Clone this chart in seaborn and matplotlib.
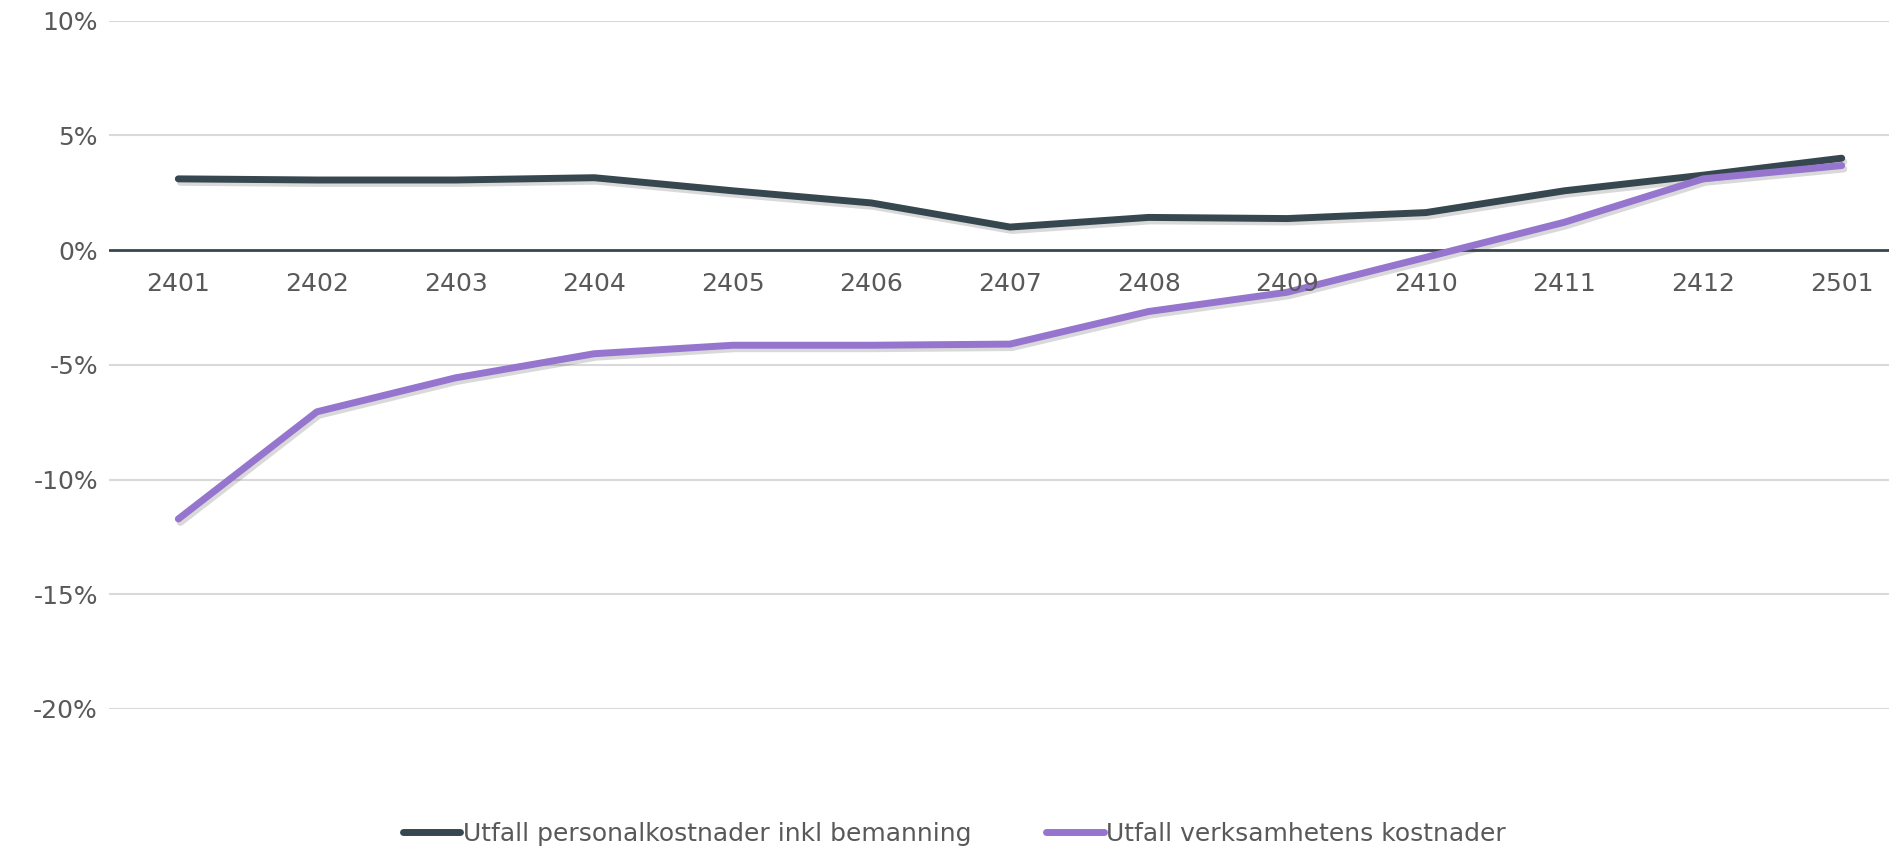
import pandas as pd
import matplotlib.pyplot as plt
import matplotlib.patheffects as pe
import seaborn as sns

sns.set_theme(style="white")
plt.rcParams['font.family'] = ['DejaVu Sans']

# Data
perioder = ["2401", "2402", "2403", "2404", "2405", "2406", "2407",
            "2408", "2409", "2410", "2411", "2412", "2501"]
personal = [3.10, 3.05, 3.05, 3.15, 2.58, 2.05, 1.00, 1.42, 1.37, 1.63, 2.58, 3.26, 4.00]
verksamhet = [-11.72, -7.05, -5.57, -4.52, -4.15, -4.15, -4.10, -2.68, -1.84, -0.32, 1.21, 3.10, 3.68]
serier = ["Utfall personalkostnader inkl bemanning", "Utfall verksamhetens kostnader"]
farger = ["#37474F", "#9575CD"]
yticks = [10, 5, 0, -5, -10, -15, -20]

df = pd.DataFrame({
    "pos": list(range(len(perioder))) * 2,
    "varde": personal + verksamhet,
    "serie": [serier[0]] * len(perioder) + [serier[1]] * len(perioder),
})

fig = plt.figure(figsize=(18.9, 8.51), dpi=100)
ax = fig.add_axes([109 / 1890, 1 - 709 / 851, 1802 / 1890, (709 - 20.5) / 851])

# rutnät
for v in yticks:
    if v != 0:
        ax.axhline(v, color="#d9d9d9", lw=1.5, zorder=0)
ax.axhline(0, color="#37474F", lw=2, zorder=1)

sns.lineplot(data=df, x="pos", y="varde", hue="serie", palette=farger,
             linewidth=5, ax=ax, legend=False, zorder=3)
for line in ax.lines[-2:]:
    line.set_solid_capstyle("round")
    line.set_path_effects([pe.SimpleLineShadow(offset=(1.5, -2.5), alpha=0.2, shadow_color="#444444"),
                           pe.Normal()])

ax.set_xlim(-0.5, len(perioder) - 0.5)
ax.set_ylim(-20, 10)
ax.set_yticks(yticks)
ax.set_yticklabels([f"{v}%" for v in yticks])
ax.set_xticks(range(len(perioder)))
ax.set_xticklabels([])
ax.tick_params(axis="y", length=0, pad=8, labelsize=18, labelcolor="#595959")
ax.tick_params(axis="x", length=0)

# kategorietiketter precis under nollinjen
for i, p in enumerate(perioder):
    ax.text(i, -1.5, p, ha="center", va="center", fontsize=18, color="#595959")

ax.set_xlabel("")
ax.set_ylabel("")
for s in ax.spines.values():
    s.set_visible(False)

handles = [plt.Line2D([], [], color=c, lw=5, solid_capstyle="round") for c in farger]
fig.legend(handles, serier, loc="center", bbox_to_anchor=(0.505, 1 - 834 / 851), ncol=2,
           frameon=False, fontsize=18, labelcolor="#595959", handlelength=2.3,
           handletextpad=0.1, columnspacing=3.0)

fig.savefig("out.png", dpi=100)
